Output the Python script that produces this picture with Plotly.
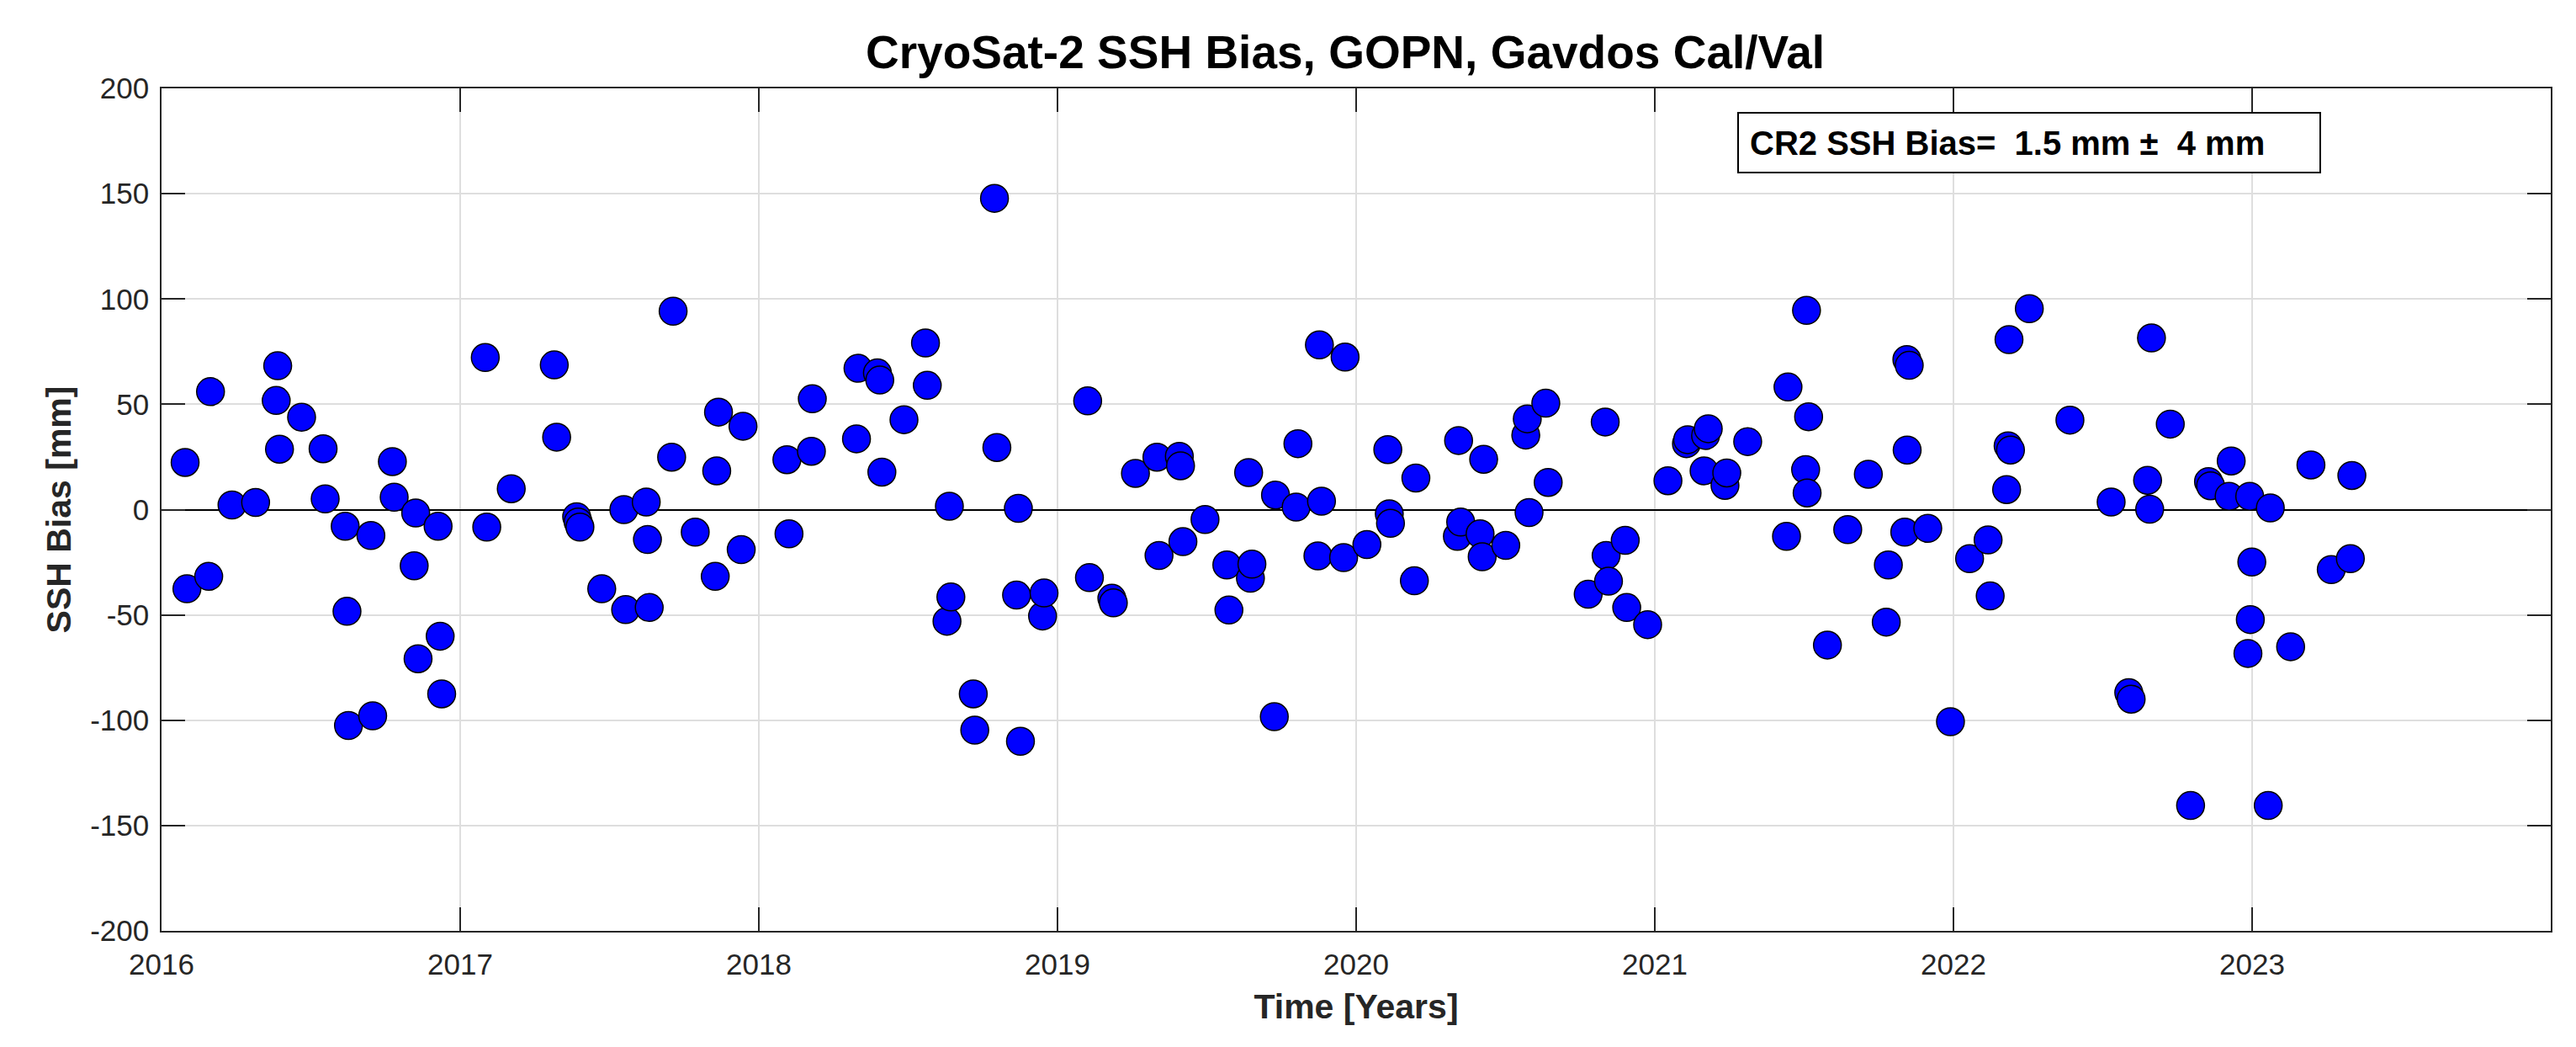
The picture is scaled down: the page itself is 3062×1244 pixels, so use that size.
import plotly.graph_objects as go

# Decimal-year time of each pass and SSH bias in mm
time_years = [
    2016.079, 2016.085, 2016.158, 2016.164, 2016.236, 2016.315, 2016.384, 2016.389, 2016.395, 2016.469,
    2016.541, 2016.548, 2016.615, 2016.621, 2016.626, 2016.701, 2016.707, 2016.773, 2016.779, 2016.846,
    2016.851, 2016.859, 2016.926, 2016.933, 2016.938, 2017.084, 2017.089, 2017.171, 2017.315, 2017.323,
    2017.390, 2017.395, 2017.401, 2017.474, 2017.548, 2017.554, 2017.623, 2017.627, 2017.633, 2017.708,
    2017.713, 2017.787, 2017.854, 2017.859, 2017.865, 2017.941, 2017.947,
    2018.094, 2018.101, 2018.176, 2018.179, 2018.327, 2018.332, 2018.397, 2018.405, 2018.412, 2018.486,
    2018.558, 2018.564, 2018.630, 2018.638, 2018.643, 2018.718, 2018.723, 2018.789, 2018.797, 2018.863,
    2018.869, 2018.876, 2018.950, 2018.955, 2019.101, 2019.107, 2019.182, 2019.187, 2019.261, 2019.333,
    2019.340, 2019.408, 2019.412, 2019.420, 2019.494, 2019.567, 2019.574, 2019.640, 2019.646, 2019.651,
    2019.726, 2019.730, 2019.799, 2019.805, 2019.872, 2019.877, 2019.884, 2019.958, 2019.963,
    2020.036, 2020.106, 2020.111, 2020.115, 2020.195, 2020.200, 2020.339, 2020.343, 2020.350, 2020.415,
    2020.422, 2020.427, 2020.501, 2020.568, 2020.573, 2020.579, 2020.635, 2020.643, 2020.777, 2020.834,
    2020.837, 2020.845, 2020.901, 2020.906, 2020.976, 2021.044, 2021.106, 2021.110, 2021.165, 2021.170,
    2021.179, 2021.235, 2021.241, 2021.311, 2021.441, 2021.446, 2021.505, 2021.508, 2021.510, 2021.515,
    2021.578, 2021.646, 2021.715, 2021.775, 2021.782, 2021.837, 2021.844, 2021.845, 2021.852, 2021.914,
    2021.990,
    2022.054, 2022.116, 2022.123, 2022.178, 2022.183, 2022.186, 2022.191, 2022.254, 2022.390, 2022.528,
    2022.587, 2022.595, 2022.650, 2022.657, 2022.663, 2022.726, 2022.794, 2022.854, 2022.861, 2022.923,
    2022.930, 2022.986, 2022.992, 2022.994, 2022.999, 2023.054, 2023.061, 2023.129, 2023.197, 2023.265,
    2023.329, 2023.334,
]

ssh_bias_mm = [
    22.4, -37.6, -31.7, 56.0, 2.2, 3.4, 51.8, 68.3, 28.7, 43.9,
    28.9, 5.1, -7.9, -48.3, -102.5, -12.3, -97.9, 22.8, 5.9, -26.7,
    -1.6, -70.8, -7.9, -60.1, -87.5, 72.2, -8.3, 9.9, 68.7, 34.4,
    -3.4, -5.9, -8.3, -37.6, 0.0, -47.5, 3.6, -14.2, -46.5, 24.9,
    94.2, -10.7, -31.7, 18.4, 46.3, -19.0, 39.6,
    23.7, -11.5, 27.7, 52.6, 33.6, 67.1, 64.9, 61.5, 17.8, 42.7,
    79.1, 59.0, -53.0, 1.6, -41.5, -87.5, -104.7, 147.8, 29.5, -40.6,
    0.6, -110.0, -50.5, -39.6, 51.6, -32.3, -42.1, -44.3, 17.2, 24.9,
    -21.8, 25.3, 20.8, -15.2, -4.7, -26.3, -47.7, 17.6, -32.6, -25.9,
    -98.3, 6.9, 1.2, 31.3, -22.0, 78.2, 4.0, -22.8, 72.4,
    -16.6, 28.5, -2.0, -6.5, -33.8, 15.0, -12.7, 32.8, -5.9, -11.5,
    -22.4, 23.9, -17.0, 35.4, 43.1, -1.4, 50.5, 12.9, -40.2, 41.6,
    -21.8, -34.0, -14.6, -46.5, -54.6, 13.7, 31.3, 33.2, 18.4, 35.2,
    38.4, 11.5, 17.4, 32.3, -12.7, 58.2, 19.0, 94.6, 7.9, 44.1,
    -64.3, -9.5, 16.8, -53.4, -26.3, -10.7, 71.2, 28.3, 68.5, -8.9,
    -100.7,
    -23.3, -14.4, -41.0, 9.5, 30.3, 80.7, 28.3, 95.4, 42.5, 3.6,
    -86.9, -90.0, 13.9, 0.2, 81.5, 40.6, -140.5, 13.3, 11.3, 6.3,
    23.1, -68.3, 6.3, -52.2, -24.9, -140.5, 0.8, -65.1, 21.2, -28.5,
    -23.3, 16.2,
]

x_tick_values = [2016, 2017, 2018, 2019, 2020, 2021, 2022, 2023]
x_tick_labels = ["2016", "2017", "2018", "2019", "2020", "2021", "2022", "2023"]
y_tick_values = [-200, -150, -100, -50, 0, 50, 100, 150, 200]
y_tick_labels = ["-200", "-150", "-100", "-50", "0", "50", "100", "150", "200"]

title_text = "CryoSat-2 SSH Bias, GOPN, Gavdos Cal/Val"
bias_text = "CR2 SSH Bias=\u00a0 1.5 mm \u00b1\u00a0 4 mm"

FONT = "Liberation Sans, Arial, Helvetica, sans-serif"
AXC = "#262626"

fig = go.Figure()
fig.add_trace(go.Scatter(
    x=time_years, y=ssh_bias_mm, mode="markers",
    marker=dict(symbol="circle", size=33, color="#0000ff",
                line=dict(color="black", width=1.5)),
    showlegend=False, hoverinfo="x+y",
))

W, H = 3062, 1244
ML, MR, MT, MB = 184, 38, 97, 146
pw = W - ML - MR
ph = H - MT - MB

def px_to_paper_x(px):
    return (px - ML) / pw

def px_to_paper_y(py):
    return (H - MB - py) / ph

fig.update_layout(
    width=W, height=H,
    margin=dict(l=ML, r=MR, t=MT, b=MB, pad=0),
    paper_bgcolor="white", plot_bgcolor="white",
    font=dict(family=FONT, color=AXC),
    title=dict(text=title_text, x=1591 / W, xanchor="center",
               y=1 - 54 / H, yanchor="middle", yref="container",
               font=dict(family=FONT, size=55, color="black", weight="bold")),
    xaxis=dict(
        range=[2016, 2024], tickmode="array", tickvals=x_tick_values, ticktext=x_tick_labels,
        ticks="inside", ticklen=28, tickwidth=1.5, tickcolor=AXC,
        showline=True, linecolor=AXC, linewidth=1.5, mirror="ticks",
        showgrid=True, gridcolor="#dedede", gridwidth=1.5, zeroline=False,
        tickfont=dict(family=FONT, size=35, color=AXC),
        ticklabelstandoff=8,
        title=dict(text="Time [Years]", standoff=18,
                   font=dict(family=FONT, size=41, color=AXC, weight="bold")),
    ),
    yaxis=dict(
        range=[-200, 200], tickmode="array", tickvals=y_tick_values, ticktext=y_tick_labels,
        ticks="inside", ticklen=28, tickwidth=1.5, tickcolor=AXC,
        showline=True, linecolor=AXC, linewidth=1.5, mirror="ticks",
        showgrid=True, gridcolor="#dedede", gridwidth=1.5,
        zeroline=True, zerolinecolor="black", zerolinewidth=1.5,
        tickfont=dict(family=FONT, size=35, color=AXC),
        ticklabelstandoff=6,
        title=dict(text="SSH Bias [mm]", standoff=10,
                   font=dict(family=FONT, size=41, color=AXC, weight="bold")),
    ),
)

# statistics text box
fig.add_shape(type="rect", xref="paper", yref="paper",
              x0=px_to_paper_x(2058), x1=px_to_paper_x(2750),
              y0=px_to_paper_y(197), y1=px_to_paper_y(126),
              line=dict(color="black", width=2), fillcolor="white", layer="above")
fig.add_annotation(xref="paper", yref="paper",
                   x=px_to_paper_x(2070), y=px_to_paper_y(162),
                   xanchor="left", yanchor="middle", showarrow=False,
                   text=bias_text,
                   font=dict(family=FONT, size=40, color="black", weight="bold"))

fig.write_html("out.html")
